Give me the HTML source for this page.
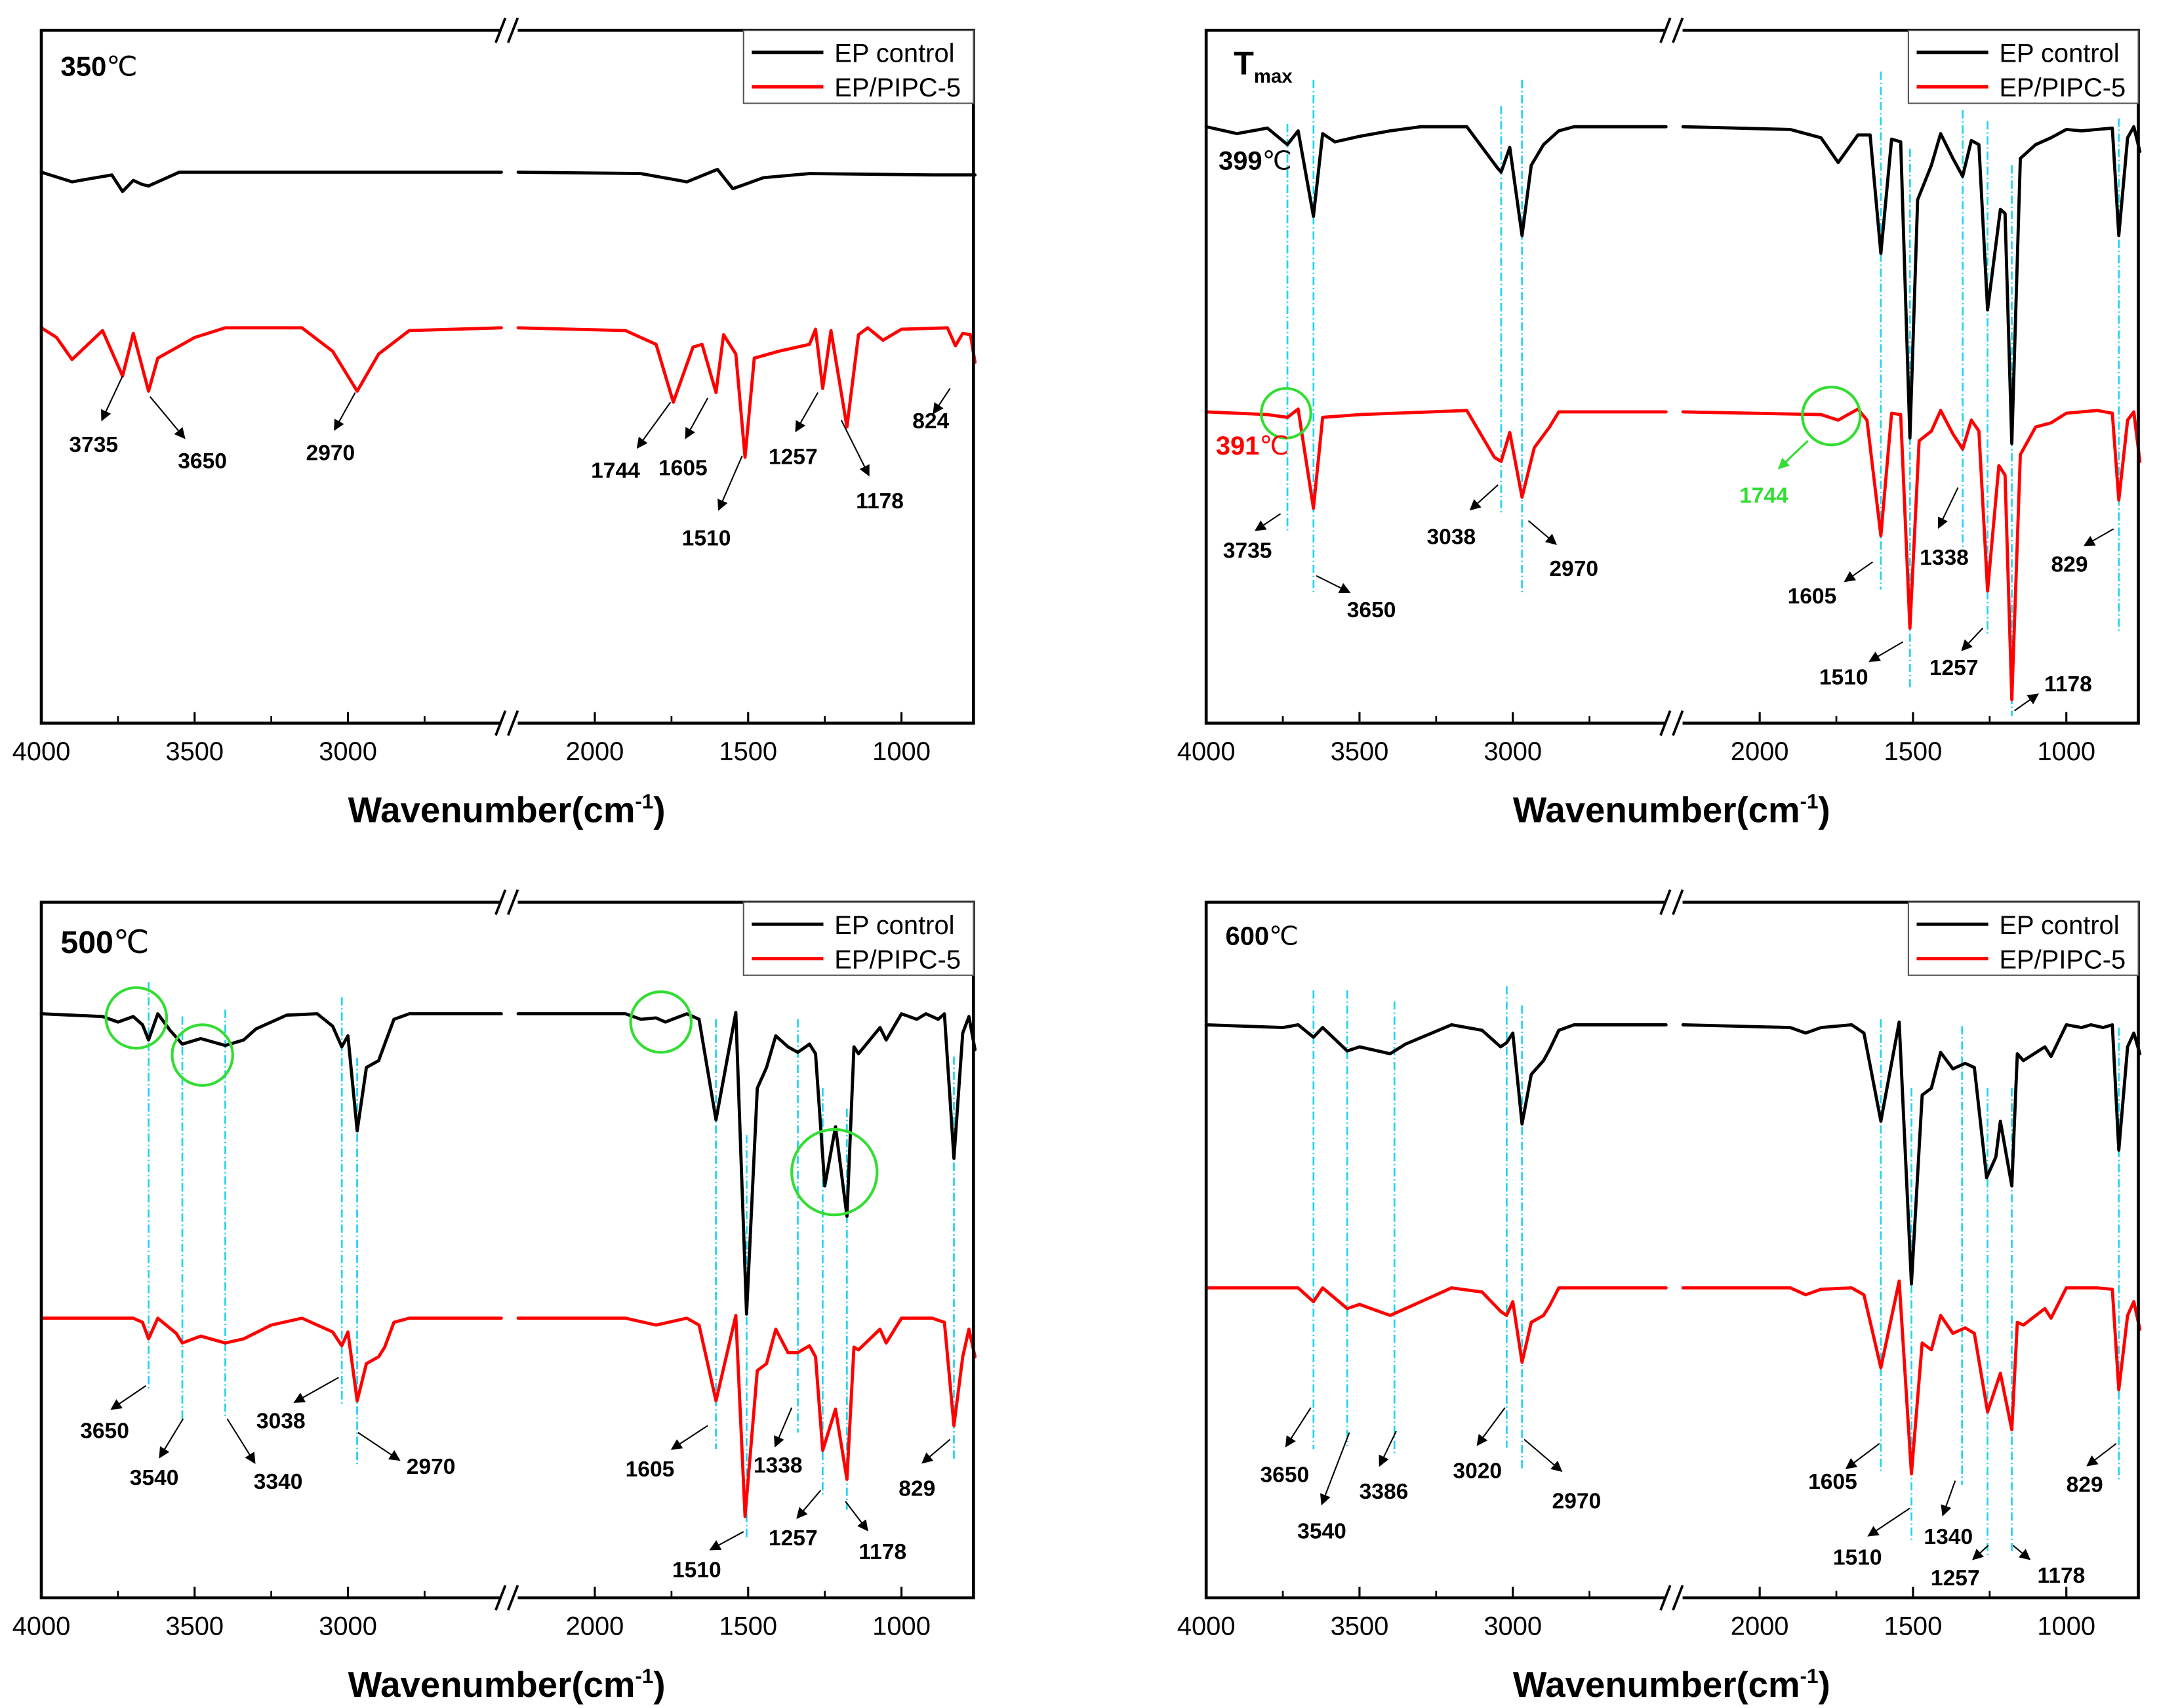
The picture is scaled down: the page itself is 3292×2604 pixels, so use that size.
<!DOCTYPE html>
<html><head><meta charset="utf-8"><style>
html,body{margin:0;padding:0;background:#fff;}
svg{display:block;}
text{font-family:"Liberation Sans","Noto Sans CJK SC",sans-serif;}
</style></head><body>
<svg id="fig" xmlns="http://www.w3.org/2000/svg" width="3292" height="2604" viewBox="0 0 1568 1240" preserveAspectRatio="none"></svg>
<script>
// ---- data: keypoints [wavenumber, transmittance a.u.] ----
const tlBlack=[[4000,400],[3900,393],[3770,398],[3735,386],[3700,394],[3670,391],[3650,390],[3620,393],[3550,400],[2500,400],[2250,400],[1850,399],[1700,393],[1600,402],[1550,388],[1450,396],[1300,399],[900,398],[760,398]];
const tlRed=[[4000,287],[3950,280],[3900,264],[3800,285],[3735,252],[3700,283],[3650,241],[3620,265],[3500,280],[3400,287],[3150,287],[3050,270],[2970,241],[2900,268],[2800,285],[2500,287],[2250,287],[1900,285],[1800,275],[1744,233],[1680,273],[1650,275],[1605,240],[1580,282],[1540,268],[1510,193],[1480,265],[1400,270],[1300,275],[1280,286],[1257,243],[1230,285],[1178,215],[1140,282],[1110,287],[1060,278],[1000,286],[850,287],[824,274],[800,283],[775,282],[760,262]];
const trBlack=[[4000,433],[3900,428],[3800,432],[3735,420],[3700,430],[3650,368],[3620,428],[3580,422],[3500,426],[3400,430],[3300,433],[3150,433],[3050,403],[3038,400],[3010,418],[2970,354],[2940,405],[2900,420],[2850,430],[2800,433],[2500,433],[2250,433],[1900,431],[1800,425],[1744,407],[1680,427],[1640,427],[1605,341],[1570,424],[1540,422],[1510,207],[1485,380],[1440,405],[1410,428],[1370,410],[1338,397],[1310,423],[1285,420],[1257,300],[1215,373],[1200,370],[1178,203],[1150,410],[1100,420],[1050,425],[1000,431],[950,430],[900,431],[850,432],[829,354],[800,425],[780,433],[760,415]];
const trRed=[[4000,226],[3800,224],[3735,222],[3700,228],[3650,156],[3620,222],[3500,224],[3150,227],[3060,193],[3038,190],[3010,211],[2970,164],[2930,200],[2880,215],[2850,226],[2500,226],[2250,226],[1800,224],[1744,220],[1680,228],[1650,220],[1605,136],[1570,225],[1540,224],[1510,69],[1480,205],[1440,212],[1410,227],[1370,210],[1338,199],[1310,220],[1285,212],[1257,96],[1220,187],[1200,180],[1178,17],[1150,195],[1100,215],[1050,218],[1000,225],[900,227],[850,225],[829,162],[800,220],[780,226],[760,190]];
const blBlack=[[4000,424],[3800,422],[3750,418],[3700,422],[3670,416],[3650,405],[3620,424],[3580,412],[3540,402],[3480,406],[3400,401],[3340,405],[3300,413],[3200,423],[3100,424],[3050,415],[3020,400],[3000,408],[2970,339],[2940,385],[2900,390],[2880,402],[2850,420],[2800,424],[2500,424],[2250,424],[1900,424],[1850,420],[1800,421],[1770,418],[1700,424],[1660,420],[1605,347],[1540,425],[1505,206],[1470,370],[1440,385],[1410,408],[1370,400],[1338,396],[1300,402],[1280,395],[1250,299],[1215,342],[1178,277],[1155,400],[1140,395],[1070,414],[1050,405],[1000,424],[950,420],[920,424],[880,420],[860,424],[829,319],[800,410],[780,422],[760,398]];
const blRed=[[4000,203],[3700,203],[3670,200],[3650,188],[3620,203],[3560,192],[3540,185],[3480,190],[3400,185],[3340,188],[3250,198],[3150,203],[3050,193],[3020,183],[3000,193],[2970,143],[2940,170],[2900,175],[2880,182],[2850,200],[2800,203],[2500,203],[2250,203],[1900,203],[1800,198],[1700,203],[1660,198],[1605,143],[1540,205],[1510,59],[1470,165],[1440,170],[1410,195],[1370,178],[1338,178],[1300,183],[1280,175],[1257,107],[1215,137],[1178,86],[1155,182],[1140,180],[1070,195],[1050,185],[1000,203],[900,203],[860,200],[829,125],[800,175],[780,195],[760,175]];
const brBlack=[[4000,416],[3750,414],[3700,416],[3650,407],[3620,414],[3540,397],[3500,400],[3400,395],[3350,402],[3200,416],[3100,412],[3040,400],[3020,403],[3000,410],[2970,344],[2940,380],[2900,390],[2880,398],[2850,412],[2800,416],[2500,416],[2250,416],[1900,414],[1850,410],[1800,414],[1700,416],[1660,410],[1605,346],[1545,418],[1505,228],[1470,365],[1440,370],[1410,396],[1370,384],[1330,388],[1300,385],[1260,305],[1230,320],[1215,346],[1178,299],[1160,395],[1140,390],[1070,400],[1050,393],[1000,416],[950,414],[920,416],[880,414],[850,416],[829,325],[800,400],[780,410],[760,395]];
const brRed=[[4000,225],[3700,225],[3650,215],[3620,225],[3540,210],[3500,213],[3400,205],[3350,210],[3200,225],[3100,222],[3040,208],[3020,205],[3000,215],[2970,171],[2940,200],[2900,205],[2880,212],[2850,225],[2500,225],[2250,225],[1900,225],[1850,220],[1800,224],[1700,225],[1660,220],[1605,167],[1545,230],[1505,90],[1470,185],[1440,180],[1410,205],[1370,192],[1330,196],[1300,192],[1257,135],[1215,163],[1178,122],[1160,200],[1140,198],[1070,210],[1050,203],[1000,225],[900,225],[850,224],[829,151],[800,205],[780,215],[760,195]];
const majorTicks=[4000,3500,3000,2000,1500,1000];
const minorTicks=[3750,3250,2750,1750,1250];
const tickLabels=["4000","3500","3000","2000","1500","1000"];

const NS="http://www.w3.org/2000/svg";
const svg=document.getElementById('fig');
function mk(tag,attrs,parent){const e=document.createElementNS(NS,tag);for(const k in attrs)e.setAttribute(k,attrs[k]);(parent||svg).appendChild(e);return e;}
function xScale(wn,ox){return wn>=2375?ox+(4000-wn)*0.2227:ox+402+(2000-wn)*0.2227;}
function yScale(v,bottom){return bottom-v;}

const panels=[
 {id:'350',ox:30,top:22,bottom:525,black:tlBlack,red:tlRed,
  cyan:[],circles:[],
  labels:[["3735",68,322,89,273,74,305],["3650",147,334,109,288,134,318],["2970",240,328,258,285,243,312],["1744",447,341,487,292,463,325],["1605",496,339,514,289,498,318],["1510",513,390,539,331,522,370],["1257",576,331,594,285,578,313],["1178",639,363,611,305,631,345],["824",676,305,690,282,678,300]]},
 {id:'tmax',ox:876,top:22,bottom:525,black:trBlack,red:trRed,
  cyan:[[3735,90,385],[3650,58,432],[3038,77,372],[2970,58,432],[1605,52,428],[1510,108,500],[1338,80,398],[1257,88,462],[1178,120,520],[829,86,458]],
  circles:[[934,300,18],[1330,302,21]],
  labels:[["3735",906,399,930,373,912,385],["3650",996,442,956,418,980,430],["3038",1054,389,1088,352,1068,370],["2970",1143,412,1110,378,1130,395],["1605",1316,432,1360,408,1340,422],["1338",1412,404,1422,354,1408,383],["829",1503,409,1535,384,1514,396],["1510",1339,491,1382,466,1358,480],["1257",1419,484,1440,456,1425,472],["1178",1502,496,1463,516,1480,504]]},
 {id:'500',ox:30,top:655,bottom:1160,black:blBlack,red:blRed,
  cyan:[[3650,713,1010],[3540,738,1032],[3400,733,1030],[3020,724,1020],[2970,768,1065],[1605,740,1052],[1505,824,1118],[1338,740,1040],[1257,790,1085],[1178,805,1096],[829,767,1060]],
  circles:[[99,739,22],[147,766,22],[480,742,22],[606,851,31]],
  labels:[["3650",76,1038,106,1006,81,1023],["3540",112,1072,133,1030,116,1058],["3340",202,1075,165,1030,185,1062],["3038",204,1031,246,1000,214,1018],["2970",313,1064,260,1040,290,1060],["1605",472,1066,514,1035,488,1052],["1338",565,1063,575,1022,563,1050],["1510",506,1139,540,1112,516,1125],["1257",576,1116,596,1082,579,1102],["1178",641,1126,614,1090,630,1111],["829",666,1080,690,1045,670,1062]]},
 {id:'600',ox:876,top:655,bottom:1160,black:brBlack,red:brRed,
  cyan:[[3650,719,1052],[3540,719,1050],[3386,727,1056],[3020,716,1051],[2970,730,1067],[1605,740,1070],[1505,790,1120],[1340,745,1078],[1257,790,1130],[1178,790,1128],[829,746,1075]],
  circles:[],
  labels:[["3650",933,1070,952,1022,934,1050],["3540",960,1111,980,1040,960,1092],["3386",1005,1082,1014,1039,1002,1064],["3020",1073,1067,1093,1022,1073,1049],["2970",1145,1089,1107,1045,1134,1068],["1605",1331,1075,1365,1048,1341,1066],["1510",1349,1130,1387,1095,1357,1115],["1340",1415,1115,1420,1075,1411,1100],["1257",1420,1145,1444,1122,1433,1132],["1178",1497,1143,1462,1122,1474,1132],["829",1514,1077,1537,1048,1516,1064]]}
];

const defs=mk('defs',{});
const mkr=mk('marker',{id:'ah',markerWidth:'8',markerHeight:'8',refX:'7',refY:'4',orient:'auto',markerUnits:'userSpaceOnUse'},defs);
mk('path',{d:'M0,0 L8,4 L0,8 Z',fill:'#000'},mkr);
const mkg=mk('marker',{id:'ahg',markerWidth:'8',markerHeight:'8',refX:'7',refY:'4',orient:'auto',markerUnits:'userSpaceOnUse'},defs);
mk('path',{d:'M0,0 L8,4 L0,8 Z',fill:'#33dd33'},mkg);

function seriesPath(data,p){
  let dl='',dr='';
  data.forEach(([wn,v])=>{
    const x=xScale(wn,p.ox).toFixed(1),y=yScale(v,p.bottom).toFixed(1);
    if(wn>=2375) dl+=(dl?'L':'M')+x+','+y; else dr+=(dr?'L':'M')+x+','+y;
  });
  return dl+' '+dr;
}

panels.forEach(p=>{
  const g=mk('g',{});
  
  
  const L=p.ox,R=p.ox+677,T=p.top,B=p.bottom,g1=p.ox+334,g2=p.ox+346;
  p.cyan.forEach(([wn,y1,y2])=>{
    const x=xScale(wn,p.ox);
    const l=mk('line',{x1:x,x2:x,y1:y1,y2:y2,stroke:'#22d4ee','stroke-width':1.3,'stroke-dasharray':'6,2,1,2'},g);
    
    
  });
  const bp=mk('path',{d:seriesPath(p.black,p),fill:'none',stroke:'#000','stroke-width':2.3,'stroke-linejoin':'round','stroke-linecap':'round'},g);
  
  
  const rp=mk('path',{d:seriesPath(p.red,p),fill:'none',stroke:'#ff0000','stroke-width':2.3,'stroke-linejoin':'round','stroke-linecap':'round'},g);
  
  
  const fr=mk('path',{d:`M${g1},${T}L${L},${T}L${L},${B}L${g1},${B}M${g2},${B}L${R},${B}L${R},${T}L${g2},${T}`,fill:'none',stroke:'#000','stroke-width':2.2},g);
  
  
  [T,B].forEach(yy=>{
    [g1-2,g1+7].forEach(xx=>{mk('line',{x1:xx-2,y1:yy+9,x2:xx+5,y2:yy-9,stroke:'#000','stroke-width':1.8},g);});
  });
  majorTicks.forEach((wn,i)=>{
    const x=xScale(wn,p.ox);
    mk('line',{x1:x,x2:x,y1:B,y2:B-8,stroke:'#000','stroke-width':1.5},g);
    const t=mk('text',{x:x,y:B+27,'font-size':19,'text-anchor':'middle',fill:'#000'},g);
    t.textContent=tickLabels[i];
    
    
  });
  minorTicks.forEach(wn=>{const x=xScale(wn,p.ox);mk('line',{x1:x,x2:x,y1:B,y2:B-5,stroke:'#000','stroke-width':1.3},g);});
  const xt=mk('text',{x:p.ox+338,y:B+72,'font-size':26,'font-weight':'bold','text-anchor':'middle',fill:'#000'},g);
  xt.innerHTML='Wavenumber(cm<tspan dy="-10" font-size="15">-1</tspan><tspan dy="10">)</tspan>';
  
  
  const lg=mk('g',{},g);
  
  
  mk('rect',{x:L+510,y:T,width:167,height:53,fill:'#fff',stroke:'#555','stroke-width':1},lg);
  mk('line',{x1:L+516,x2:L+568,y1:T+16,y2:T+16,stroke:'#000','stroke-width':2.4},lg);
  mk('line',{x1:L+516,x2:L+568,y1:T+41,y2:T+41,stroke:'#ff0000','stroke-width':2.4},lg);
  const e1=mk('text',{x:L+576,y:T+23,'font-size':19,fill:'#000'},lg);e1.textContent='EP control';
  
  
  const e2=mk('text',{x:L+576,y:T+48,'font-size':19,fill:'#000'},lg);e2.textContent='EP/PIPC-5';
  
  
  p.circles.forEach(([cx,cy,r])=>{
    const c=mk('circle',{cx:cx,cy:cy,r:r,fill:'none',stroke:'#33dd33','stroke-width':2},g);
    
    
  });
  p.labels.forEach(([txt,tx,ty,x1,y1,x2,y2])=>{
    mk('line',{x1:x1,y1:y1,x2:x2,y2:y2,stroke:'#000','stroke-width':1,'marker-end':'url(#ah)'},g);
    const t=mk('text',{x:tx,y:ty+6,'font-size':16,'font-weight':'bold','text-anchor':'middle',fill:'#000'},g);
    t.textContent=txt;
    
    
  });
});

function title(html,x,y,color,size,name){
  const t=mk('text',{x:x,y:y,'font-size':size||20,'font-weight':'bold',fill:color||'#000'});
  t.innerHTML=html;
  
  
}
title('350<tspan font-weight="normal" font-family="Liberation Serif, serif">℃</tspan>',44,55,'#000',20,'panel-title-350');
title('T<tspan font-size="14" dy="6">max</tspan>',896,54,'#000',24,'panel-title-tmax');
title('399<tspan font-weight="normal" font-family="Liberation Serif, serif">℃</tspan>',885,123,'#000',19,'temp-label-399');
title('391<tspan font-weight="normal" font-family="Liberation Serif, serif">℃</tspan>',883,330,'#ff0000',19,'temp-label-391');
title('500<tspan font-weight="normal" font-family="Liberation Serif, serif">℃</tspan>',44,692,'#000',23,'panel-title-500');
title('600<tspan font-weight="normal" font-family="Liberation Serif, serif">℃</tspan>',890,686,'#000',19,'panel-title-600');
mk('line',{x1:1313,y1:320,x2:1292,y2:340,stroke:'#33dd33','stroke-width':1.5,'marker-end':'url(#ahg)'});
const g1744=mk('text',{x:1281,y:365,'font-size':16,'font-weight':'bold','text-anchor':'middle',fill:'#33dd33'});
g1744.textContent='1744';


</script>
</body></html>
